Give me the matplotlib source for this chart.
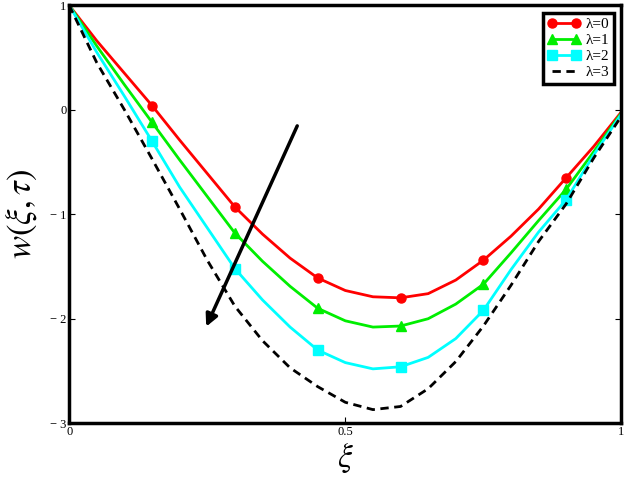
import matplotlib
matplotlib.use("Agg")
import matplotlib.pyplot as plt

plt.rcParams["font.family"] = "Liberation Serif"
plt.rcParams["mathtext.fontset"] = "stix"

# data
xi = [0.0, 0.05, 0.1, 0.15, 0.2, 0.25, 0.3, 0.35, 0.4, 0.45, 0.5,
      0.55, 0.6, 0.65, 0.7, 0.75, 0.8, 0.85, 0.9, 0.95, 1.0]
w_lam0 = [1.0, 0.66, 0.35, 0.04, -0.29, -0.61, -0.93, -1.19, -1.42, -1.61, -1.73,
          -1.79, -1.80, -1.76, -1.63, -1.44, -1.21, -0.95, -0.65, -0.35, -0.02]
w_lam1 = [1.0, 0.61, 0.24, -0.12, -0.48, -0.83, -1.18, -1.45, -1.69, -1.90, -2.02,
          -2.08, -2.07, -2.00, -1.86, -1.67, -1.37, -1.06, -0.76, -0.40, -0.03]
w_lam2 = [1.0, 0.55, 0.13, -0.30, -0.74, -1.13, -1.52, -1.82, -2.08, -2.30, -2.42,
          -2.48, -2.46, -2.37, -2.19, -1.92, -1.53, -1.17, -0.86, -0.43, -0.04]
w_lam3 = [1.0, 0.45, 0.0, -0.47, -0.95, -1.44, -1.88, -2.21, -2.47, -2.65, -2.80,
          -2.87, -2.84, -2.67, -2.41, -2.07, -1.68, -1.26, -0.90, -0.46, -0.06]
marker_idx = [3, 6, 9, 12, 15, 18]

fig = plt.figure(figsize=(6.29, 4.82), dpi=100)
ax = fig.add_axes([0.110, 0.122, 0.878, 0.867])

ax.plot(xi, w_lam0, color="#ff0000", lw=2, marker="o", ms=6.5,
        markevery=marker_idx, label="λ=0")
ax.plot(xi, w_lam1, color="#00ee00", lw=2, marker="^", ms=6.5,
        markevery=marker_idx, label="λ=1")
ax.plot(xi, w_lam2, color="#00ffff", lw=2, marker="s", ms=6.5,
        markevery=marker_idx, label="λ=2")
ax.plot(xi, w_lam3, color="black", lw=2, ls=(0, (3, 2)), label="λ=3")

# arrow showing increase of lambda
ax.annotate("", xy=(0.246, -2.10), xytext=(0.415, -0.13),
            arrowprops=dict(arrowstyle="-|>", color="black", lw=2.5,
                            mutation_scale=18))

ax.set_xlim(0, 1)
ax.set_ylim(-3, 1)
ax.set_xticks([0, 0.5, 1])
ax.set_xticklabels(["0", "0.5", "1"])
ax.set_yticks([-3, -2, -1, 0, 1])
ax.set_yticklabels(["− 3", "− 2", "− 1", "0", "1"])
ax.tick_params(direction="in", labelsize=9, length=4, right=True, top=False,
               pad=2)
for s in ax.spines.values():
    s.set_linewidth(2.5)

ax.set_xlabel(r"$\xi$", fontsize=24, labelpad=2)
ax.set_ylabel(r"$w(\xi,\tau)$", fontsize=25, labelpad=8)

leg = ax.legend(loc="upper right", fontsize=11, handlelength=2.2,
                handletextpad=0.3, borderpad=0.3, labelspacing=0.15,
                fancybox=False, framealpha=1, edgecolor="black",
                markerscale=1.0, numpoints=2)
leg.get_frame().set_linewidth(2.5)

fig.savefig("out.png", dpi=100)
